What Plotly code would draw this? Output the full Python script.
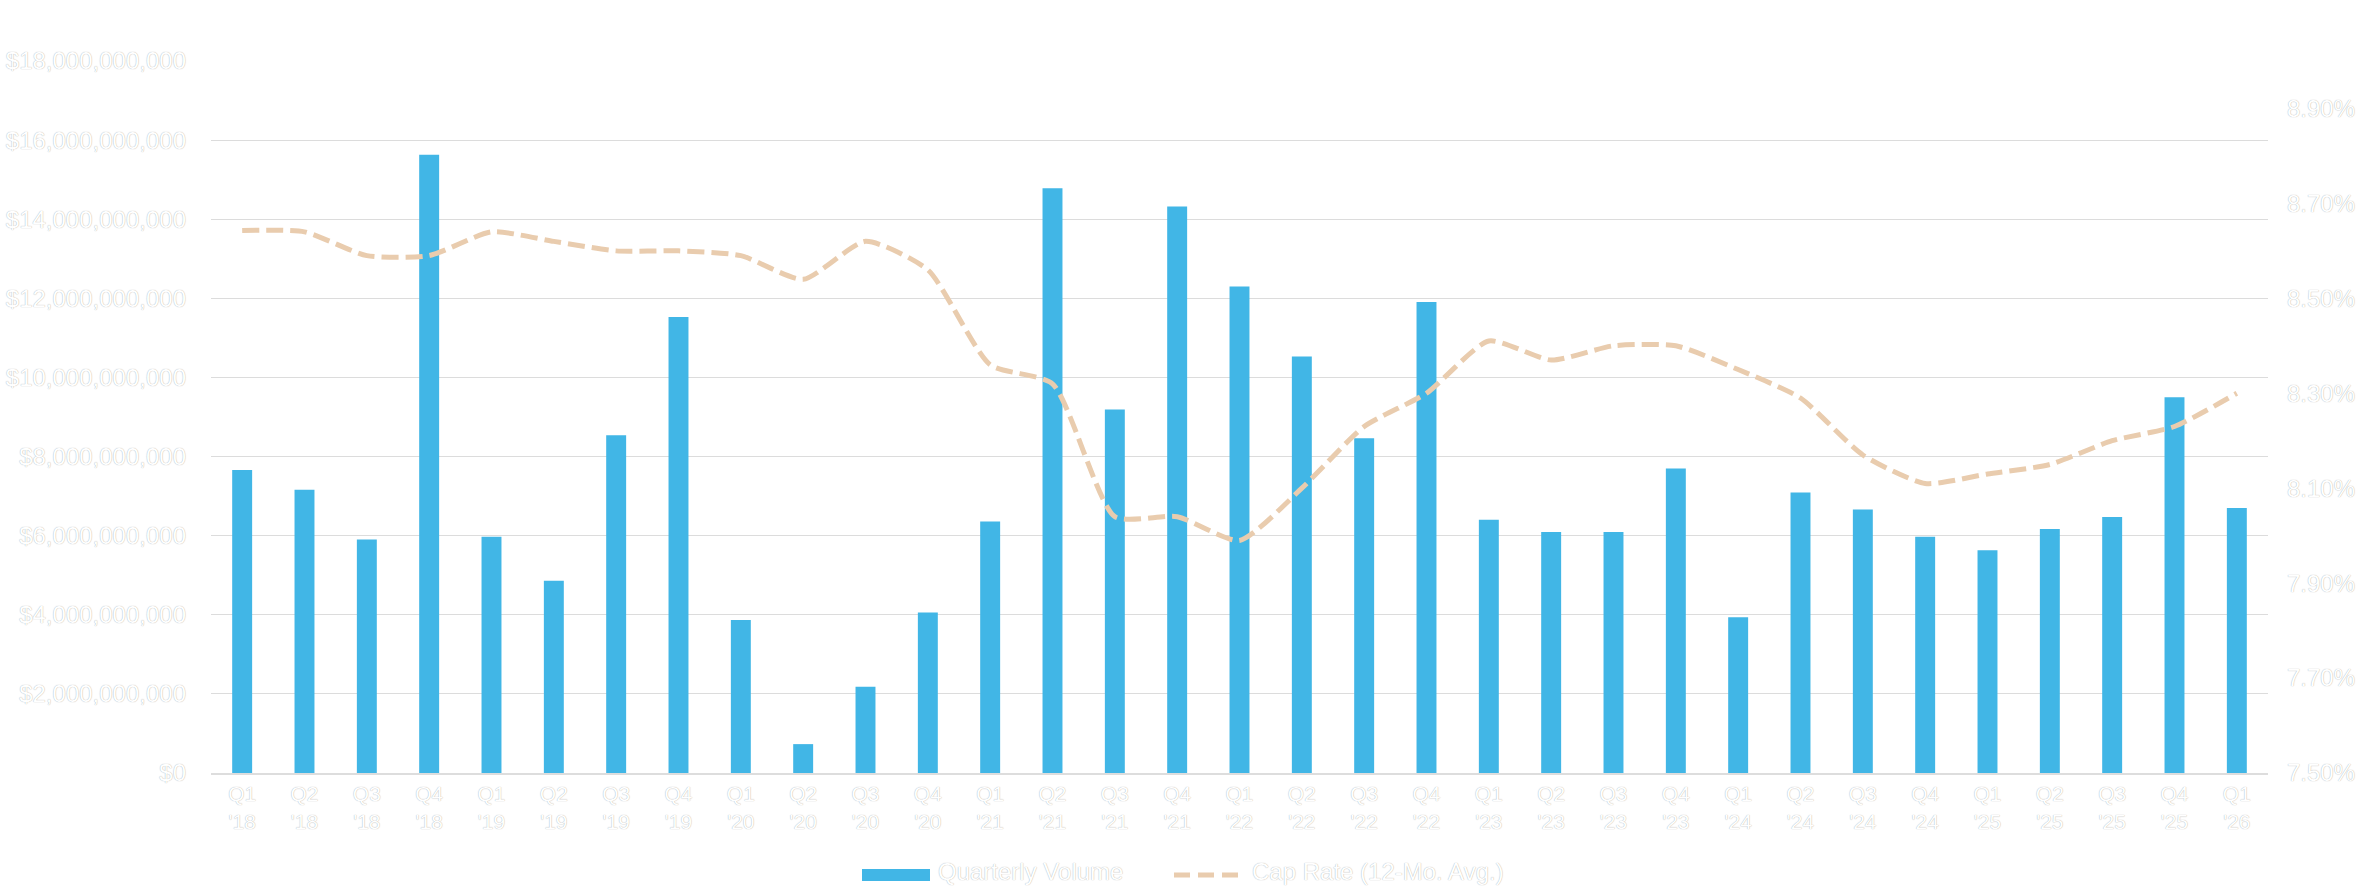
import plotly.graph_objects as go

quarters = ["Q1", "Q2", "Q3", "Q4"]
years = ["18", "19", "20", "21", "22", "23", "24", "25"]
categories = [f"{q} '{y}" for y in years for q in quarters] + ["Q1 '26"]
tick_labels = [f"{q}<br>'{y}" for y in years for q in quarters] + ["Q1<br>'26"]

quarterly_volume = [
    7.66e9, 7.16e9, 5.90e9, 15.63e9,
    5.97e9, 4.86e9, 8.54e9, 11.53e9,
    3.87e9, 0.73e9, 2.18e9, 4.06e9,
    6.36e9, 14.78e9, 9.19e9, 14.32e9,
    12.30e9, 10.53e9, 8.46e9, 11.91e9,
    6.40e9, 6.09e9, 6.09e9, 7.70e9,
    3.94e9, 7.09e9, 6.66e9, 5.97e9,
    5.63e9, 6.17e9, 6.47e9, 9.50e9,
    6.70e9,
]

cap_rate = [
    8.643, 8.64, 8.59, 8.59,
    8.64, 8.62, 8.60, 8.60,
    8.59, 8.54, 8.62, 8.56,
    8.36, 8.32, 8.04, 8.04,
    7.99, 8.10, 8.23, 8.30,
    8.41, 8.37, 8.40, 8.40,
    8.35, 8.29, 8.17, 8.11,
    8.13, 8.15, 8.20, 8.23,
    8.30,
]

left_ticks = [i * 2e9 for i in range(10)]
left_tick_text = ["$0"] + [f"${v:,.0f}" for v in left_ticks[1:]]
right_ticks = [7.5, 7.7, 7.9, 8.1, 8.3, 8.5, 8.7, 8.9]
right_tick_text = [f"{v:.2f}%" for v in right_ticks]

BAR_COLOR = "#41B6E6"
LINE_COLOR = "#E9CCAE"
FONT = "Liberation Sans, Arial, sans-serif"
SHADOW = "0px 0px 1px #9a9a9a"
TEXT_FONT = dict(family=FONT, size=24, color="#ffffff", shadow=SHADOW)

W, H = 2362, 886
L, R, T, B = 211, 94, 61, 113
pw, ph = W - L - R, H - T - B


def px_x(px):
    return (px - L) / pw


def px_y(py):
    return (H - B - py) / ph


fig = go.Figure()
fig.add_trace(go.Bar(
    x=categories, y=quarterly_volume, name="Quarterly Volume",
    marker=dict(color=BAR_COLOR, line=dict(width=0)),
    width=0.32, yaxis="y", showlegend=False,
))
fig.add_trace(go.Scatter(
    x=categories, y=cap_rate, name="Cap Rate (12-Mo. Avg.)",
    mode="lines", yaxis="y2", showlegend=False,
    line=dict(color=LINE_COLOR, width=5, dash="17px,7px", shape="spline", smoothing=0.6),
))

# custom legend
fig.add_shape(type="rect", xref="paper", yref="paper",
              x0=px_x(862), x1=px_x(930), y0=px_y(881), y1=px_y(869),
              fillcolor=BAR_COLOR, line=dict(width=0))
fig.add_shape(type="line", xref="paper", yref="paper",
              x0=px_x(1174), x1=px_x(1242), y0=px_y(875), y1=px_y(875),
              line=dict(color=LINE_COLOR, width=5, dash="16px,8px"))
fig.add_annotation(text="Quarterly Volume", xref="paper", yref="paper",
                   x=px_x(937), y=px_y(871), xanchor="left", yanchor="middle",
                   showarrow=False, font=TEXT_FONT, borderpad=0)
fig.add_annotation(text="Cap Rate (12-Mo. Avg.)", xref="paper", yref="paper",
                   x=px_x(1251), y=px_y(871), xanchor="left", yanchor="middle",
                   showarrow=False, font=TEXT_FONT, borderpad=0)

fig.update_layout(
    width=W, height=H,
    margin=dict(l=L, r=R, t=T, b=B, pad=0, autoexpand=False),
    paper_bgcolor="#ffffff", plot_bgcolor="#ffffff",
    font=TEXT_FONT,
    xaxis=dict(
        type="category", tickmode="array", tickvals=categories, ticktext=tick_labels,
        tickfont=dict(family=FONT, size=21, color="#ffffff", shadow=SHADOW),
        showgrid=False, showline=True, linecolor="#dddddd", linewidth=2,
        ticks="", ticklabelstandoff=1, zeroline=False, automargin=False,
    ),
    yaxis=dict(
        range=[0, 18e9], tickmode="array", tickvals=left_ticks, ticktext=left_tick_text,
        showgrid=True, gridcolor="#dcdcdc", gridwidth=1,
        zeroline=False, showline=False, ticks="",
        ticklabelstandoff=24, automargin=False,
        tickfont=TEXT_FONT,
    ),
    yaxis2=dict(
        range=[7.5, 9.0], overlaying="y", side="right",
        tickmode="array", tickvals=right_ticks, ticktext=right_tick_text,
        showgrid=False, zeroline=False, showline=False, ticks="",
        ticklabelstandoff=18, automargin=False,
        tickfont=TEXT_FONT,
    ),
)

fig.write_html("out.html")
